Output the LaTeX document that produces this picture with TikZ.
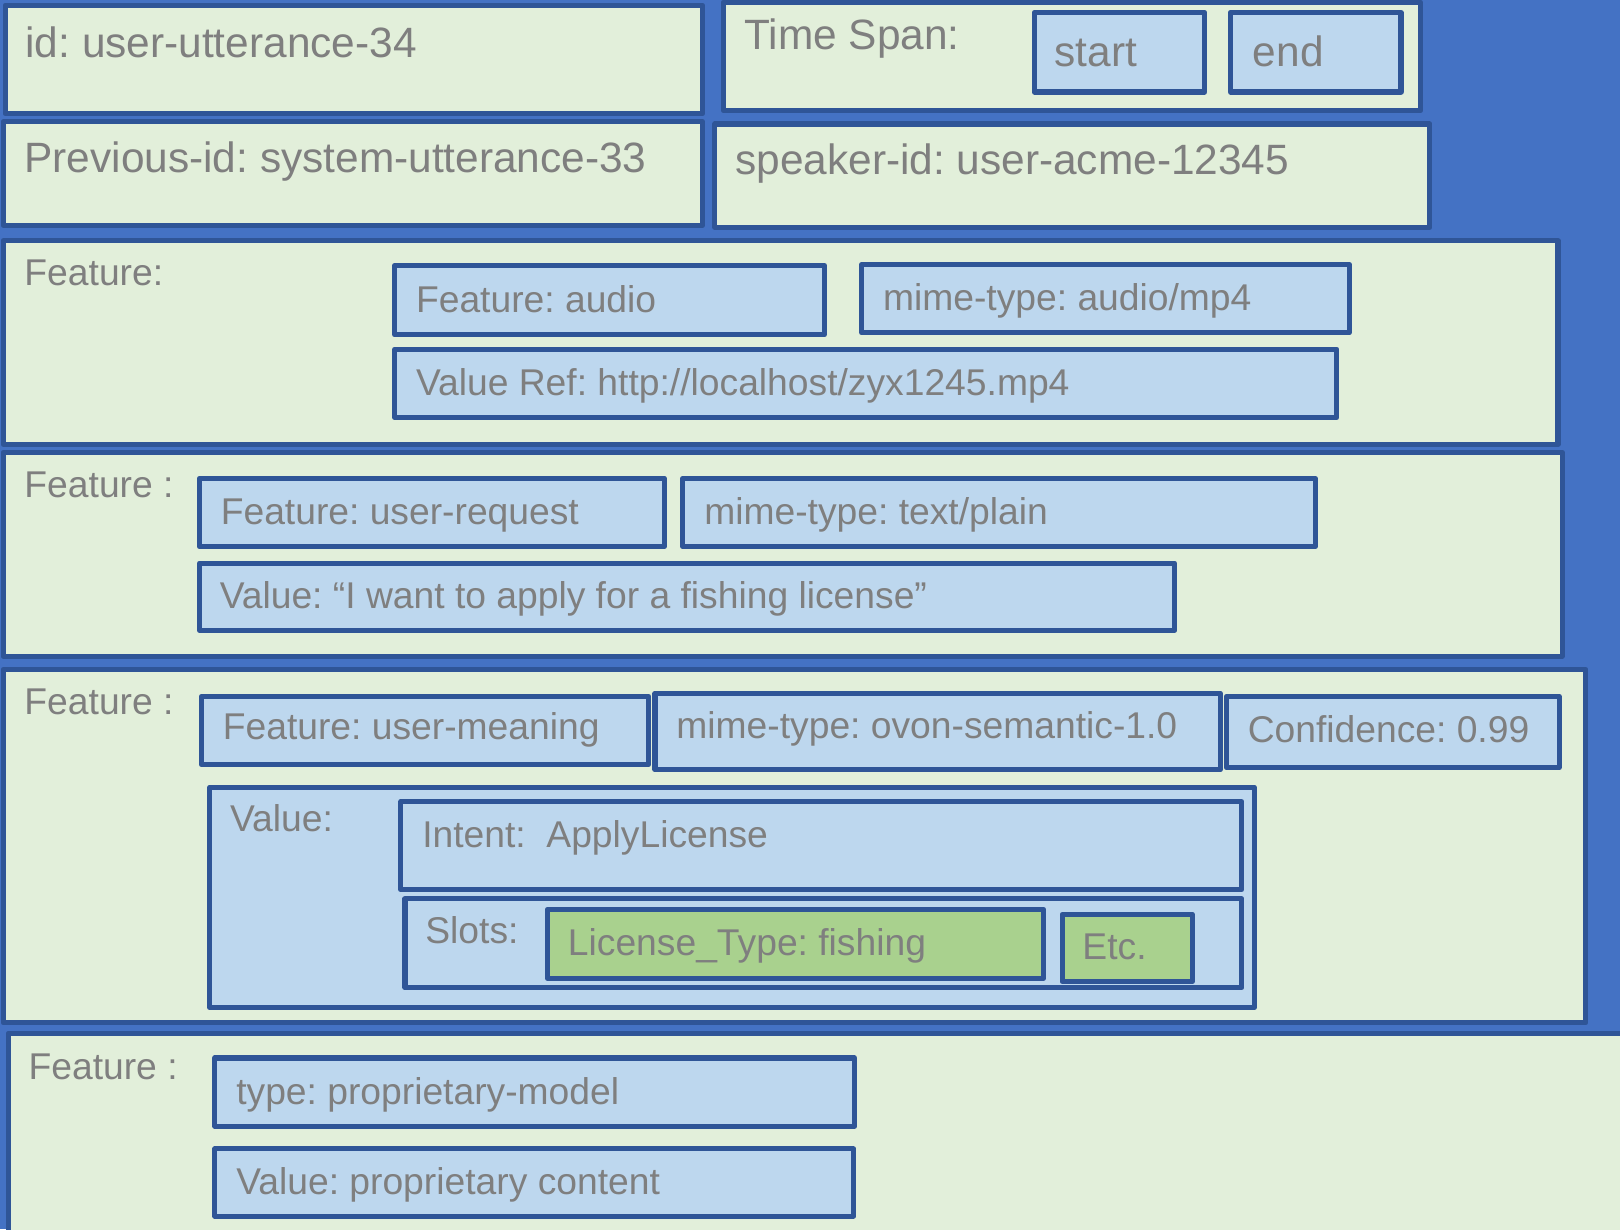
\documentclass[tikz,border=0pt]{standalone}
\usepackage{fontspec}
\setmainfont{Liberation Sans}
\frenchspacing
\definecolor{bgblue}{HTML}{4472C4}
\definecolor{edgeblue}{HTML}{2F5597}
\definecolor{palegreen}{HTML}{E2EFDA}
\definecolor{paleblue}{HTML}{BDD7EE}
\definecolor{slotgreen}{HTML}{A9D18E}
\definecolor{txtgray}{HTML}{7F7F7F}
\begin{document}
\begin{tikzpicture}[x=0.01cm, y=-0.01cm,
    greenbox/.style={draw=edgeblue, fill=palegreen, line width=1.4pt, line join=round},
    bluebox/.style={draw=edgeblue, fill=paleblue, line width=1.4pt, line join=round},
    slotbox/.style={draw=edgeblue, fill=slotgreen, line width=1.4pt, line join=round},
    bigtxt/.style={anchor=base west, inner sep=0pt, text=txtgray, font=\fontsize{11.67pt}{14pt}\selectfont},
    smalltxt/.style={anchor=base west, inner sep=0pt, text=txtgray, font=\fontsize{10.25pt}{12pt}\selectfont}]
        % Background
        \useasboundingbox (0,0) rectangle (1568,1190);
        \clip (0,0) rectangle (1568,1190);
        \fill[bgblue] (0,0) rectangle (1568,1190);

        % Utterance header
        \draw[greenbox] (5,5) rectangle (680,110);
        \node[bigtxt] (uttid) at (24,56) {id: user-utterance-34};

        \draw[greenbox] (700,2) rectangle (1375,107);
        \node[bigtxt] (span) at (720,48) {Time Span:};
        \draw[bluebox] (1001,12) rectangle (1166,89);
        \node[bigtxt] (spanstart) at (1020,64) {start};
        \draw[bluebox] (1191,12) rectangle (1356,89);
        \node[bigtxt] (spanend) at (1212,64) {end};

        \draw[greenbox] (3,118) rectangle (680,218);
        \node[bigtxt] (previd) at (23,167) {Previous-id: system-utterance-33};

        \draw[greenbox] (692,120) rectangle (1384,220);
        \node[bigtxt] (speaker) at (711,169) {speaker-id: user-acme-12345};

        % Feature: audio
        \draw[greenbox] (3,233) rectangle (1508,430);
        \node[smalltxt] (feataudio) at (23,276) {Feature:};
        \draw[bluebox] (382,257) rectangle (798,324);
        \node[smalltxt] (audioname) at (402,302) {Feature: audio};
        \draw[bluebox] (834,256) rectangle (1306,322);
        \node[smalltxt] (audiomime) at (854,301) {mime-type: audio/mp4};
        \draw[bluebox] (382,338) rectangle (1294,404);
        \node[smalltxt] (audioref) at (402,383) {Value Ref: http://localhost/zyx1245.mp4};

        % Feature: user-request
        \draw[greenbox] (3,438) rectangle (1512,635);
        \node[smalltxt] (featreq) at (23,482) {Feature :};
        \draw[bluebox] (193,463) rectangle (643,529);
        \node[smalltxt] (reqname) at (213,508) {Feature: user-request};
        \draw[bluebox] (661,463) rectangle (1273,529);
        \node[smalltxt] (reqmime) at (681,508) {mime-type: text/plain};
        \draw[bluebox] (193,545) rectangle (1137,610);
        \node[smalltxt] (reqvalue) at (212,589) {Value: “I want to apply for a fishing license”};

        % Feature: user-meaning
        \draw[greenbox] (3,648) rectangle (1535,990);
        \node[smalltxt] (featmean) at (23,692) {Feature :};
        \draw[bluebox] (195,674) rectangle (628,740);
        \node[smalltxt] (meanname) at (215,716) {Feature: user-meaning};
        \draw[bluebox] (634,671) rectangle (1181,745);
        \node[smalltxt] (meanmime) at (654,715) {mime-type: ovon-semantic-1.0};
        \draw[bluebox] (1187,674) rectangle (1509,743);
        \node[smalltxt] (meanconf) at (1207,719) {Confidence: 0.99};

        \draw[bluebox] (203,762) rectangle (1214,975);
        \node[smalltxt] (meanvalue) at (222,805) {Value:};
        \draw[bluebox] (388,776) rectangle (1202,861);
        \node[smalltxt] (intent) at (408,820) {Intent:\ \ ApplyLicense};
        \draw[bluebox] (392,870) rectangle (1202,956);
        \node[smalltxt] (slots) at (411,913) {Slots:};
        \draw[slotbox] (530,880) rectangle (1010,947);
        \node[smalltxt] (slottype) at (549,925) {License\_Type: fishing};
        \draw[slotbox] (1028,885) rectangle (1154,950);
        \node[smalltxt] (slotetc) at (1047,929) {Etc.};

        % Feature: proprietary
        \draw[greenbox] (8,1000) rectangle (1590,1210);
        \node[smalltxt] (featprop) at (27,1045) {Feature :};
        \draw[bluebox] (208,1024) rectangle (827,1090);
        \node[smalltxt] (proptype) at (228,1069) {type: proprietary-model};
        \draw[bluebox] (208,1112) rectangle (826,1177);
        \node[smalltxt] (propvalue) at (228,1156) {Value: proprietary content};
\end{tikzpicture}
\end{document}
